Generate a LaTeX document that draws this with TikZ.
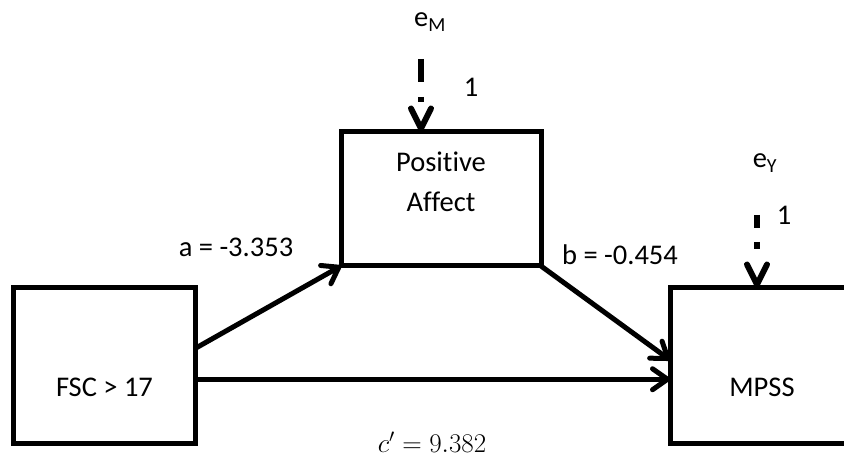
\documentclass[tikz,border=0pt]{standalone}
\usepackage{fix-cm}
\usepackage{fontspec}
\newfontfamily\calibri[Ligatures=NoCommon]{Carlito}
\usetikzlibrary{arrows.meta}
\begin{document}
\begin{tikzpicture}[x=1pt,y=-1pt,
  box/.style={draw, line width=5pt, inner sep=0pt, outer sep=0pt},
  lbl/.style={font=\calibri\fontsize{28.5}{40}\selectfont, inner sep=0pt, anchor=base},
  conn/.style={line width=5pt, -{Straight Barb[round,length=15pt,width=21pt]}},
  errM/.style={line width=6pt, dash pattern=on 23pt off 15pt on 5pt off 30pt, -{Straight Barb[round,length=20pt,width=20pt]}},
  errY/.style={line width=6pt, dash pattern=on 13pt off 14pt on 7pt off 30pt, -{Straight Barb[round,length=20pt,width=20pt]}}
]
\useasboundingbox (0,0) rectangle (844,465);
\clip (0,0) rectangle (844,465);
% boxes
\node[box, minimum width=182pt, minimum height=155.5pt] (fsc) at (104.5,365.25) {};
\node[box, minimum width=200pt, minimum height=134.5pt] (pa) at (441,198.75) {};
\node[box, minimum width=184pt, minimum height=155.5pt] (mpss) at (762,365.25) {};
% box texts
\node[lbl] (fsct) at (104.5,396) {FSC > 17};
\node[lbl] (mpsst) at (762,396) {MPSS};
\node[lbl] (pat1) at (441,172) {Positive};
\node[lbl] (pat2) at (441,212) {Affect};
% paths
\draw[conn] ([yshift=17pt]fsc.east) -- (pa.south west);
\draw[conn] (pa.south east) -- ([yshift=5.25pt]mpss.west);
\draw[conn] ([yshift=-14pt]fsc.east) -- ([yshift=-14pt]mpss.west);
% path labels
\node[lbl] (alab) at (236,257) {a = -3.353};
\node[lbl] (blab) at (620,265) {b = -0.454};
\node[lbl, font=\fontsize{27}{30}\selectfont] (cp) at (432,452) {$c' = 9.382$};
% error terms
\node[lbl] (eM) at (430,27) {e\textsubscript{M}};
\coordinate (eMs) at (421,59);
\draw[errM] (eMs) -- (eMs |- pa.north);
\node[lbl] (oneM) at (471,97) {1};
\node[lbl] (eY) at (765,168) {e\textsubscript{Y}};
\coordinate (eYs) at (757,215);
\draw[errY] (eYs) -- (eYs |- mpss.north);
\node[lbl] (oneY) at (784,225) {1};
\end{tikzpicture}
\end{document}
